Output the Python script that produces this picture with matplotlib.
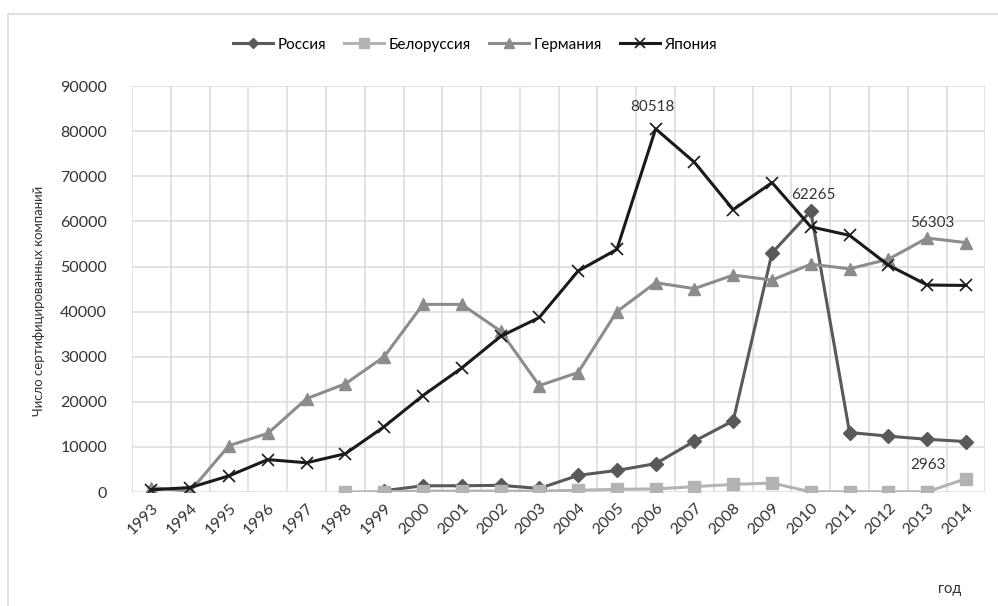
import numpy as np
import matplotlib.pyplot as plt
from matplotlib.patches import Rectangle

years = list(range(1993, 2015))

# values; None = no data for that year
russia = [None, None, None, None, None, None, 300, 1400, 1400, 1500, 800,
          3700, 4800, 6300, 11300, 15800, 53000, 62265, 13200, 12400, 11700, 11200]
belarus = [None, None, None, None, None, 0, 100, 200, 200, 200, 200,
           400, 600, 700, 1200, 1700, 2000, 50, 50, 50, 50, 2963]
germany = [1000, 200, 10300, 13000, 20700, 24000, 30000, 41600, 41600, 35700, 23600,
           26500, 40000, 46400, 45100, 48100, 47000, 50500, 49500, 51600, 56303, 55300]
japan = [500, 1000, 3600, 7200, 6500, 8500, 14500, 21400, 27500, 34500, 38700,
         49000, 53800, 80518, 73100, 62600, 68600, 58800, 56900, 50300, 45900, 45800]

plt.rcParams['font.family'] = ['Lato', 'DejaVu Sans']

fig = plt.figure(figsize=(9.98, 6.06), dpi=100)
fig.patches.append(Rectangle((8 / 998, -0.1), 1.2, 1 - 14 / 606 + 0.1,
                             transform=fig.transFigure, fill=False,
                             edgecolor='#d9d9d9', linewidth=1.2))
ax = fig.add_axes([0.1323, 0.188, 0.855, 0.670])

x = np.arange(len(years))


def to_arr(vals):
    return np.array([np.nan if v is None else v for v in vals], dtype=float)


series = [
    ('Россия', russia, '#595959', 'D', 7),
    ('Белоруссия', belarus, '#b3b3b3', 's', 9),
    ('Германия', germany, '#8c8c8c', '^', 9),
    ('Япония', japan, '#1a1a1a', 'x', 9),
]
for name, vals, color, marker, ms in series:
    ax.plot(x, to_arr(vals), color=color, linewidth=2.2, marker=marker,
            markersize=ms, markeredgewidth=1.2 if marker == 'x' else 1,
            label=name, zorder=3)

# data labels
lbl = dict(ha='center', fontsize=11, color='#333333', textcoords='offset points')
ax.annotate('80518', (13, 80518), xytext=(-2, 13), **lbl)
ax.annotate('62265', (17, 62265), xytext=(2, 9), **lbl)
ax.annotate('56303', (20, 56303), xytext=(4, 8), **lbl)
ax.annotate('2963', (21, 2963), xytext=(-27, 7), **lbl)

ax.set_xlim(-0.5, len(years) - 0.5)
ax.set_ylim(0, 90000)
ax.set_yticks(np.arange(0, 90001, 10000))
ax.set_xticks(x)
ax.set_xticklabels([str(y) for y in years], rotation=45, ha='right',
                   rotation_mode='anchor', fontsize=11.5, color='#333333')
ax.set_xticks(np.arange(-0.5, len(years), 1), minor=True)
ax.tick_params(axis='y', labelsize=11.5, colors='#333333', length=0, pad=18)
ax.tick_params(axis='x', which='both', length=0, pad=6)
ax.grid(True, axis='y', color='#dddddd', linewidth=1.2)
ax.grid(True, axis='x', which='minor', color='#dddddd', linewidth=1.2)
ax.grid(False, axis='x', which='major')
ax.set_axisbelow(True)
for s in ax.spines.values():
    s.set_visible(False)

ax.set_ylabel('Число сертифицированных компаний', fontsize=9.5, color='#333333',
              labelpad=10)
ax.yaxis.set_label_coords(-0.102, 0.47)
fig.text(0.952, 0.022, 'год', fontsize=10.5, color='#333333', ha='center')

fig.legend(loc='center', bbox_to_anchor=(0.476, 0.926), ncol=4, frameon=False,
           fontsize=11, handlelength=2.6, columnspacing=1.2, handletextpad=0.3,
           markerscale=0.75)

fig.savefig('out.png', dpi=100)
